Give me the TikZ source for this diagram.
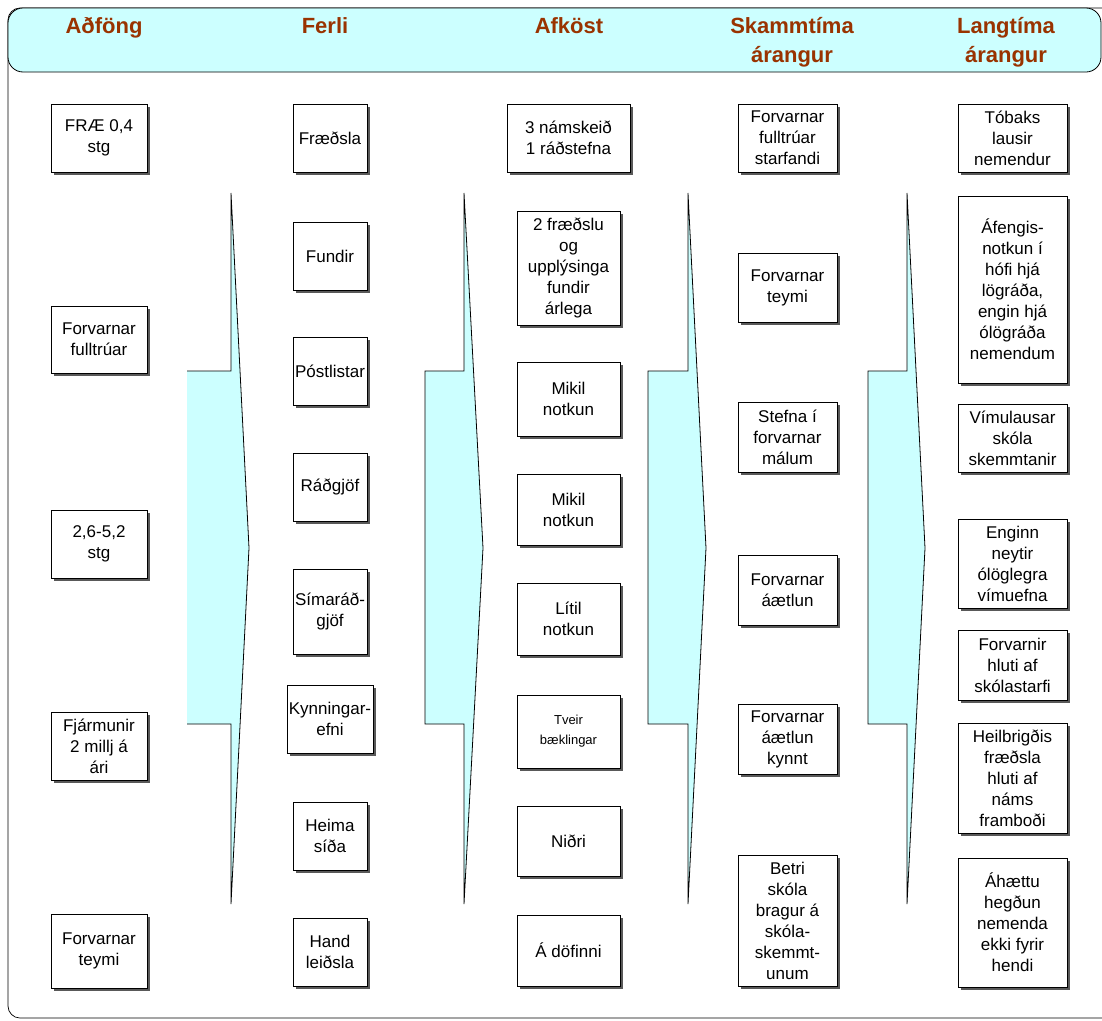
\documentclass[tikz,border=0pt]{standalone}
\usepackage{fontspec}
\setmainfont{Liberation Sans}
\usetikzlibrary{shadows}
\definecolor{bandcyan}{HTML}{CCFFFF}
\definecolor{headred}{HTML}{993300}
\newcommand{\bx}[6]{\node[box, minimum width={#4-#2}, minimum height={#5-#3}] (#1) at ({(#2+#4)/2},{(#3+#5)/2}) {#6};}
\begin{document}
\begin{tikzpicture}[x=1pt,y=-1pt,
  box/.style={draw=black, fill=white, line width=0.7pt, align=center, inner sep=0pt,
    font=\fontsize{17}{21}\selectfont,
    drop shadow={shadow xshift=2.5pt, shadow yshift=-2.5pt, fill=black!65, opacity=1}},
  head/.style={font=\fontsize{22}{29}\selectfont\bfseries, text=headred, align=center, anchor=base, inner sep=0pt},
  bigarrow/.style={fill=bandcyan},
  arrowline/.style={draw=black, line width=0.8pt, line join=miter}]
\useasboundingbox (0,0) rectangle (1102,1020);
\clip (0,0) rectangle (1102,1020);
% frame and header band
\draw[line width=0.7pt, rounded corners=12pt] (8,8) rectangle (1120,1018);
\draw[fill=bandcyan, line width=0.8pt, rounded corners=15pt] (8,8) rectangle (1101,72);
\node[head] (h1) at (104,33) {Aðföng};
\node[head] (h2) at (325,33) {Ferli};
\node[head] (h3) at (569,33) {Afköst};
\node[head] (h4) at (792,62) {Skammtíma\\árangur};
\node[head] (h5) at (1006,62) {Langtíma\\árangur};
% block arrows
\fill[bigarrow] (187,371) -- (231,371) -- (231,193) -- (249,548) -- (231,904) -- (231,724) -- (187,724) -- cycle;
\draw[arrowline] (187,371) -- (231,371) -- (231,193) -- (249,548) -- (231,904) -- (231,724) -- (187,724);
\foreach \a/\b/\c in {425/464/483, 648/688/706, 868/907/925}{
  \filldraw[bigarrow, arrowline] (\a,371) -- (\b,371) -- (\b,193) -- (\c,548) -- (\b,904) -- (\b,724) -- (\a,724) -- cycle;
}
% column 1
\bx{a1}{51}{104}{147}{172}{FRÆ 0,4\\stg}
\bx{a2}{51}{306}{147}{373}{Forvarnar\\fulltrúar}
\bx{a3}{51}{510}{147}{578}{2,6-5,2\\stg}
\bx{a4}{51}{712}{147}{780}{Fjármunir\\2 millj á\\ári}
\bx{a5}{51}{914}{147}{988}{Forvarnar\\teymi}
% column 2
\bx{b1}{293}{104}{367}{172}{Fræðsla}
\bx{b2}{293}{222}{367}{290}{Fundir}
\bx{b3}{293}{337}{367}{405}{Póstlistar}
\bx{b4}{293}{453}{367}{521}{Ráðgjöf}
\bx{b5}{293}{569}{367}{654}{Símaráð-\\gjöf}
\bx{b6}{287}{685}{373}{753}{Kynningar-\\efni}
\bx{b7}{293}{802}{367}{870}{Heima\\síða}
\bx{b8}{293}{918}{367}{986}{Hand\\leiðsla}
% column 3
\bx{c1}{507}{104}{630}{172}{3 námskeið\\1 ráðstefna}
\bx{c2}{517}{211}{620}{325}{2 fræðslu\\og\\upplýsinga\\fundir\\árlega}
\bx{c3}{517}{362}{620}{436}{Mikil\\notkun}
\bx{c4}{517}{474}{620}{545}{Mikil\\notkun}
\bx{c5}{517}{583}{620}{655}{Lítil\\notkun}
\node[box, font=\fontsize{13}{20}\selectfont, minimum width=103, minimum height=73] (c6) at (568.5,731.5) {Tveir\\bæklingar};
\bx{c7}{517}{806}{620}{876}{Niðri}
\bx{c8}{517}{915}{620}{986}{Á döfinni}
% column 4
\bx{d1}{738}{104}{837}{172}{Forvarnar\\fulltrúar\\starfandi}
\bx{d2}{738}{253}{837}{322}{Forvarnar\\teymi}
\bx{d3}{738}{402}{837}{472}{Stefna í\\forvarnar\\málum}
\bx{d4}{738}{555}{837}{625}{Forvarnar\\áætlun}
\bx{d5}{738}{704}{837}{774}{Forvarnar\\áætlun\\kynnt}
\bx{d6}{738}{855}{837}{986}{Betri\\skóla\\bragur á\\skóla-\\skemmt-\\unum}
% column 5
\bx{e1}{958}{104}{1067}{172}{Tóbaks\\lausir\\nemendur}
\bx{e2}{958}{196}{1067}{383}{Áfengis-\\notkun í\\hófi hjá\\lögráða,\\engin hjá\\ólögráða\\nemendum}
\bx{e3}{958}{404}{1067}{472}{Vímulausar\\skóla\\skemmtanir}
\bx{e4}{958}{519}{1067}{608}{Enginn\\neytir\\ólöglegra\\vímuefna}
\bx{e5}{958}{630}{1067}{700}{Forvarnir\\hluti af\\skólastarfi}
\bx{e6}{958}{723}{1067}{833}{Heilbrigðis\\fræðsla\\hluti af\\náms\\framboði}
\bx{e7}{958}{858}{1067}{987}{Áhættu\\hegðun\\nemenda\\ekki fyrir\\hendi}
\end{tikzpicture}
\end{document}
